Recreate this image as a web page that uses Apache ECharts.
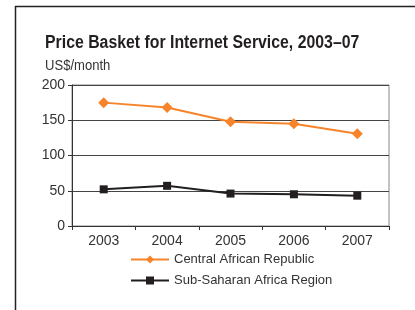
<!DOCTYPE html>
<html>
<head>
<meta charset="utf-8">
<script src="https://cdn.jsdelivr.net/npm/echarts@6/dist/echarts.min.js"></script>
<style>
  html, body { margin: 0; padding: 0; background: #fff; }
  #chart { width: 415px; height: 310px; }
</style>
</head>
<body>
<div id="chart"></div>
<script>
// values
const years = ['2003', '2004', '2005', '2006', '2007']
const centralAfrica = [175, 168, 148, 145, 131]
const subSaharan = [52, 57, 46, 45, 43]

const font = '"Liberation Sans", Arial, sans-serif'

let chart = echarts.init(document.getElementById('chart'))

chart.setOption({
    animation: false,
    textStyle: {fontFamily: font},
    // title, unit and outer frame (left and top edges only); text squeezed to look condensed
    graphic: [
        {type: 'line', shape: {x1: 15.5, y1: 6, x2: 15.5, y2: 310}, style: {stroke: '#222', lineWidth: 1.5}},
        {type: 'line', shape: {x1: 15, y1: 6.5, x2: 415, y2: 6.5}, style: {stroke: '#222', lineWidth: 1.5}},
        {
            type: 'text', x: 45, y: 34, scaleX: 0.88,
            style: {text: 'Price Basket for Internet Service, 2003–07', font: 'bold 18px ' + font, fill: '#231f20'}
        },
        {
            type: 'text', x: 45, y: 58, scaleX: 0.87,
            style: {text: 'US$/month', font: '15px ' + font, fill: '#333'}
        }
    ],
    legend: {
        orient: 'vertical',
        left: 130,
        top: 253,
        padding: 0,
        itemWidth: 38,
        itemHeight: 10,
        itemGap: 8,
        textStyle: {fontFamily: font, fontSize: 13, color: '#333'},
        data: ['Central African Republic', 'Sub-Saharan Africa Region']
    },
    grid: {left: 72, right: 26, top: 85, bottom: 84, show: true, borderColor: '#888', borderWidth: 1},
    xAxis: {
        type: 'category',
        data: years,
        axisLine: {lineStyle: {color: '#333'}},
        axisTick: {show: true, length: 4, lineStyle: {color: '#333'}},
        axisLabel: {fontFamily: font, fontSize: 14, color: '#333', margin: 8}
    },
    yAxis: {
        type: 'value',
        min: 0,
        max: 200,
        interval: 50,
        axisLine: {show: true, lineStyle: {color: '#333'}},
        axisTick: {show: true, length: 4, lineStyle: {color: '#333'}},
        axisLabel: {fontFamily: font, fontSize: 14, color: '#333', margin: 7},
        splitLine: {lineStyle: {color: '#444', width: 1}}
    },
    series: [
        {
            name: 'Central African Republic',
            type: 'line',
            data: centralAfrica,
            symbol: 'diamond',
            symbolSize: 11,
            color: '#f7842a',
            lineStyle: {width: 2}
        },
        {
            name: 'Sub-Saharan Africa Region',
            type: 'line',
            data: subSaharan,
            symbol: 'rect',
            symbolSize: 8,
            color: '#231f20',
            lineStyle: {width: 2}
        }
    ]
})
</script>
</body>
</html>
